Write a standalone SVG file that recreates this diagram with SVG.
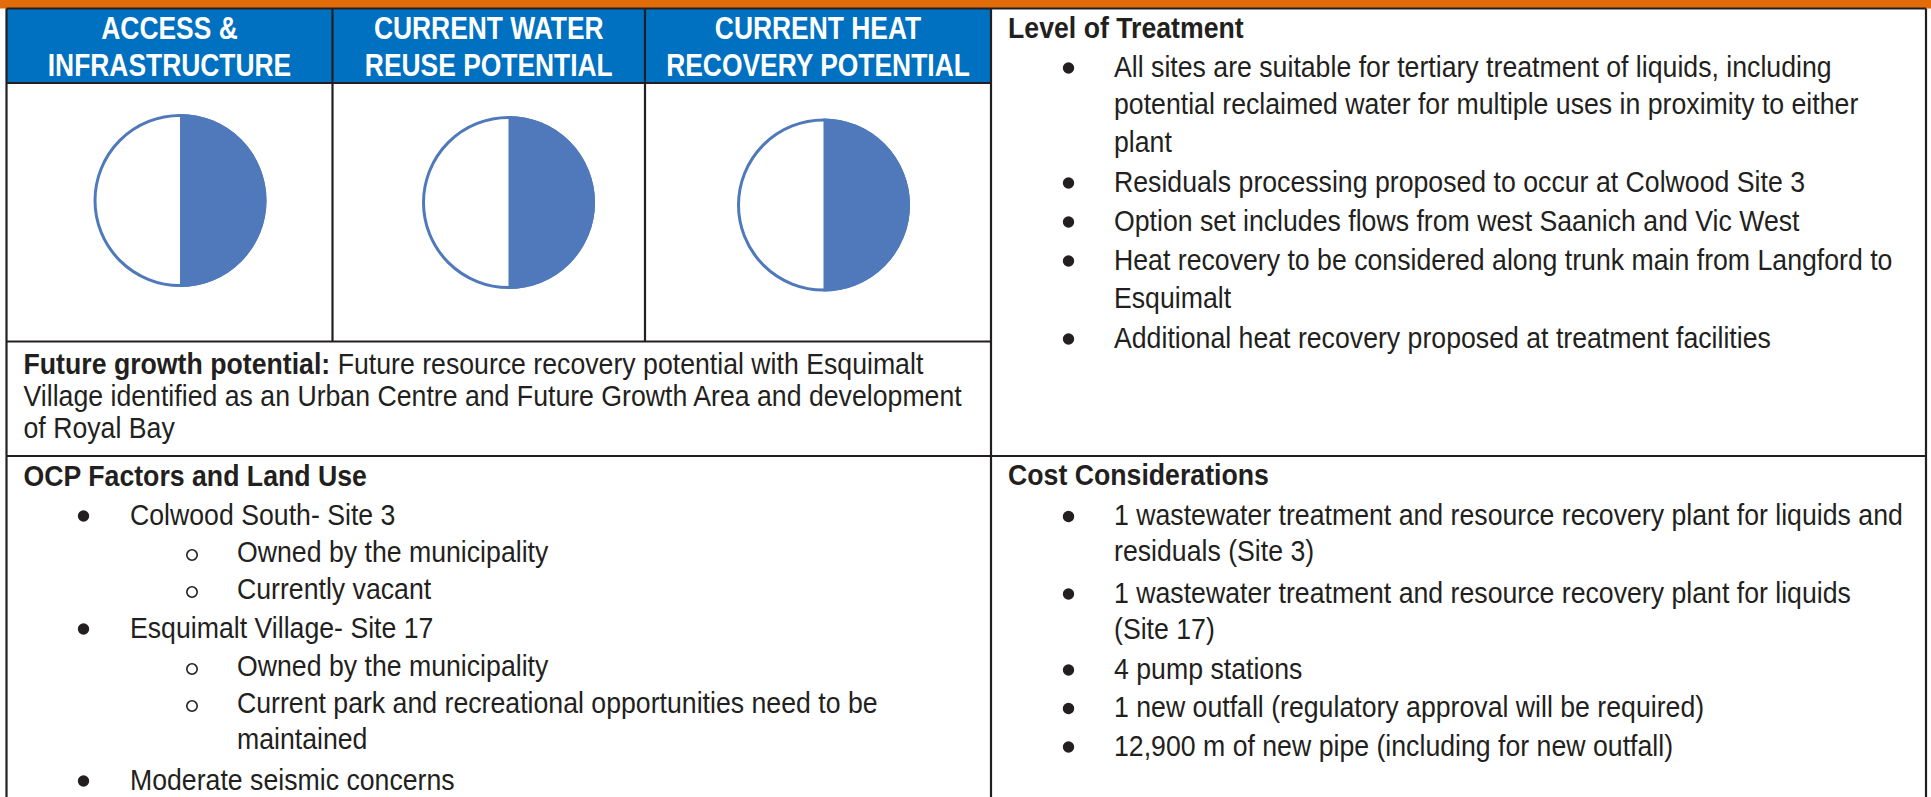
<svg xmlns="http://www.w3.org/2000/svg" width="1931" height="797" viewBox="0 0 1931 797">
<style>
.t{font-family:"Liberation Sans",Arial,Helvetica,sans-serif;font-size:29px;fill:#231f20}
.b{font-weight:bold}
.h{font-family:"Liberation Sans",Arial,Helvetica,sans-serif;font-size:30.5px;font-weight:bold;fill:#ffffff;text-anchor:middle}
.ln{stroke:#231f20;stroke-width:2.2;fill:none}
.dot{fill:#231f20}
.ring{fill:none;stroke:#231f20;stroke-width:1.6}
.pie{fill:#ffffff;stroke:#4f79ba;stroke-width:3}
.half{fill:#4f79ba}
</style>
<rect x="0" y="0" width="1931" height="797" fill="#ffffff"/>
<rect x="0" y="0" width="1931" height="8.5" fill="#e36c0a"/>
<rect x="6.5" y="8.5" width="984.5" height="74.5" fill="#0070c0"/>

<g id="hdr-access">
<text class="h" transform="translate(169.5,38.5) scale(0.866,1)">ACCESS &amp;</text>
<text class="h" transform="translate(169.5,75.5) scale(0.866,1)">INFRASTRUCTURE</text>
</g>
<g id="hdr-water">
<text class="h" transform="translate(488.8,38.5) scale(0.866,1)">CURRENT WATER</text>
<text class="h" transform="translate(488.8,75.5) scale(0.866,1)">REUSE POTENTIAL</text>
</g>
<g id="hdr-heat">
<text class="h" transform="translate(818,38.5) scale(0.866,1)">CURRENT HEAT</text>
<text class="h" transform="translate(818,75.5) scale(0.866,1)">RECOVERY POTENTIAL</text>
</g>

<g id="pie-access">
<circle class="pie" cx="180" cy="200.5" r="85"/>
<path class="half" d="M180,114 A86.5,86.5 0 0 1 180,287 Z"/>
</g>
<g id="pie-water">
<circle class="pie" cx="508.5" cy="202.5" r="85"/>
<path class="half" d="M508.5,116 A86.5,86.5 0 0 1 508.5,289 Z"/>
</g>
<g id="pie-heat">
<circle class="pie" cx="823.5" cy="205" r="85"/>
<path class="half" d="M823.5,118.5 A86.5,86.5 0 0 1 823.5,291.5 Z"/>
</g>

<g id="future-growth">
<g transform="translate(6.5,0) scale(0.92,1)">
<text class="t" x="18.5" y="374.5"><tspan class="b">Future growth potential:</tspan> Future resource recovery potential with Esquimalt</text>
<text class="t" x="18.5" y="406.5">Village identified as an Urban Centre and Future Growth Area and development</text>
<text class="t" x="18.5" y="438.5">of Royal Bay</text>
</g>
</g>

<g id="level-of-treatment">
<g transform="translate(991,0) scale(0.92,1)">
<text class="t b" x="18.5" y="38.5">Level of Treatment</text>
<text class="t" x="133.7" y="77">All sites are suitable for tertiary treatment of liquids, including</text>
<text class="t" x="133.7" y="114.5">potential reclaimed water for multiple uses in proximity to either</text>
<text class="t" x="133.7" y="152">plant</text>
<text class="t" x="133.7" y="192">Residuals processing proposed to occur at Colwood Site 3</text>
<text class="t" x="133.7" y="231">Option set includes flows from west Saanich and Vic West</text>
<text class="t" x="133.7" y="270">Heat recovery to be considered along trunk main from Langford to</text>
<text class="t" x="133.7" y="308">Esquimalt</text>
<text class="t" x="133.7" y="348">Additional heat recovery proposed at treatment facilities</text>
</g>
<circle class="dot" cx="1068.5" cy="68" r="5.7"/>
<circle class="dot" cx="1068.5" cy="183" r="5.7"/>
<circle class="dot" cx="1068.5" cy="222" r="5.7"/>
<circle class="dot" cx="1068.5" cy="261" r="5.7"/>
<circle class="dot" cx="1068.5" cy="339" r="5.7"/>
</g>

<g id="ocp-factors">
<g transform="translate(6.5,0) scale(0.92,1)">
<text class="t b" x="18.5" y="486">OCP Factors and Land Use</text>
<text class="t" x="134.2" y="525">Colwood South- Site 3</text>
<text class="t" x="250.5" y="562">Owned by the municipality</text>
<text class="t" x="250.5" y="599">Currently vacant</text>
<text class="t" x="134.2" y="638">Esquimalt Village- Site 17</text>
<text class="t" x="250.5" y="676">Owned by the municipality</text>
<text class="t" x="250.5" y="713">Current park and recreational opportunities need to be</text>
<text class="t" x="250.5" y="749.5">maintained</text>
<text class="t" x="134.2" y="790">Moderate seismic concerns</text>
</g>
<circle class="dot" cx="83.5" cy="516" r="5.7"/>
<circle class="ring" cx="192" cy="555" r="5.2"/>
<circle class="ring" cx="192" cy="592" r="5.2"/>
<circle class="dot" cx="83.5" cy="629" r="5.7"/>
<circle class="ring" cx="192" cy="669" r="5.2"/>
<circle class="ring" cx="192" cy="706" r="5.2"/>
<circle class="dot" cx="83.5" cy="781" r="5.7"/>
</g>

<g id="cost-considerations">
<g transform="translate(991,0) scale(0.92,1)">
<text class="t b" x="18.5" y="485.5">Cost Considerations</text>
<text class="t" x="133.7" y="525.5">1 wastewater treatment and resource recovery plant for liquids and</text>
<text class="t" x="133.7" y="561">residuals (Site 3)</text>
<text class="t" x="133.7" y="603">1 wastewater treatment and resource recovery plant for liquids</text>
<text class="t" x="133.7" y="639">(Site 17)</text>
<text class="t" x="133.7" y="679">4 pump stations</text>
<text class="t" x="133.7" y="717.5">1 new outfall (regulatory approval will be required)</text>
<text class="t" x="133.7" y="756">12,900 m of new pipe (including for new outfall)</text>
</g>
<circle class="dot" cx="1068.5" cy="516.5" r="5.7"/>
<circle class="dot" cx="1068.5" cy="594" r="5.7"/>
<circle class="dot" cx="1068.5" cy="670" r="5.7"/>
<circle class="dot" cx="1068.5" cy="708.5" r="5.7"/>
<circle class="dot" cx="1068.5" cy="747" r="5.7"/>
</g>

<g id="grid">
<line class="ln" x1="6.5" y1="8.5" x2="1926" y2="8.5"/>
<line class="ln" x1="6.5" y1="83" x2="991" y2="83"/>
<line class="ln" x1="6.5" y1="341.5" x2="991" y2="341.5"/>
<line class="ln" x1="6.5" y1="456" x2="1926" y2="456"/>
<line class="ln" x1="6.5" y1="8.5" x2="6.5" y2="797"/>
<line class="ln" x1="332.5" y1="8.5" x2="332.5" y2="341.5"/>
<line class="ln" x1="645" y1="8.5" x2="645" y2="341.5"/>
<line class="ln" x1="991" y1="8.5" x2="991" y2="797"/>
<line class="ln" x1="1926" y1="8.5" x2="1926" y2="797"/>
</g>
</svg>
